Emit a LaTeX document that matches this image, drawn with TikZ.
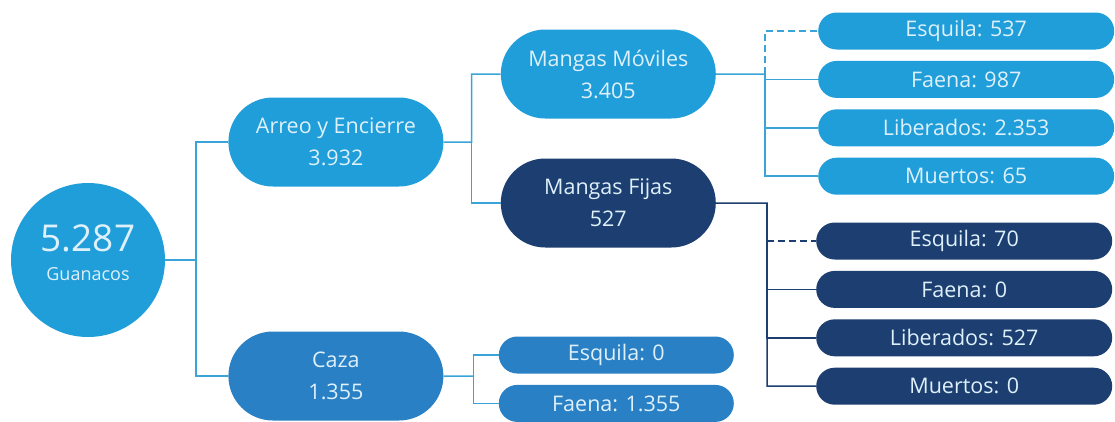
\documentclass[tikz,border=0pt]{standalone}
\usepackage{fontspec}
\setmainfont{Open Sans}
\usepackage{xcolor}
\usetikzlibrary{positioning,shapes.misc}

\definecolor{celeste}{RGB}{32,158,218}
\definecolor{azulmedio}{RGB}{42,128,196}
\definecolor{azuloscuro}{RGB}{28,62,112}
\definecolor{textoclaro}{RGB}{222,240,250}
\definecolor{lineaclara}{RGB}{58,163,216}

\begin{document}
\begin{tikzpicture}[x=1pt, y=-1pt, every node/.style={font=\fontsize{21.5}{32}\selectfont, text=textoclaro, align=center},
  grande/.style={rounded rectangle, minimum width=215pt, minimum height=89pt, inner sep=0pt},
  hoja/.style={rounded rectangle, minimum width=296pt, minimum height=37pt, inner sep=0pt},
  hojacaza/.style={rounded rectangle, minimum width=235pt, minimum height=37pt, inner sep=0pt},
  linea/.style={draw=lineaclara, line width=1.5pt},
  lineaosc/.style={draw=azuloscuro, line width=1.5pt},
  trazos/.style={dash pattern=on 7pt off 4pt}]
  \useasboundingbox (0,0) rectangle (1115,421);

  % Total
  \node[circle, fill=celeste, minimum size=154pt, inner sep=0pt, text depth=14pt] (raiz) at (88,260)
{{\fontsize{37}{40}\selectfont 5.287}\\[-3pt]{\fontsize{18}{20}\selectfont Guanacos}};

  % Metodos
  \node[grande, fill=celeste, right=63pt of raiz, yshift=118pt] (arreo) {Arreo y Encierre\\3.932};
  \node[grande, fill=azulmedio, right=63pt of raiz, yshift=-116pt] (caza) {Caza\\1.355};

  % Mangas
  \node[grande, fill=celeste, right=57pt of arreo, yshift=68pt] (mmovil) {Mangas Móviles\\3.405};
  \node[grande, fill=azuloscuro, right=57pt of arreo, yshift=-61pt] (mfija) {Mangas Fijas\\527};

  % Destino mangas moviles
  \node[hoja, fill=celeste, right=102pt of mmovil, yshift=43pt] (esq1) {Esquila: 537};
  \node[hoja, fill=celeste, below=11pt of esq1] (fae1) {Faena: 987};
  \node[hoja, fill=celeste, below=11pt of fae1] (lib1) {Liberados: 2.353};
  \node[hoja, fill=celeste, below=11pt of lib1] (mue1) {Muertos: 65};

  % Destino mangas fijas
  \node[hoja, fill=azuloscuro, right=100pt of mfija, yshift=-38pt] (esq2) {Esquila: 70};
  \node[hoja, fill=azuloscuro, below=11pt of esq2] (fae2) {Faena: 0};
  \node[hoja, fill=azuloscuro, below=11pt of fae2] (lib2) {Liberados: 527};
  \node[hoja, fill=azuloscuro, below=11pt of lib2] (mue2) {Muertos: 0};

  % Destino caza
  \node[hojacaza, fill=azulmedio, right=55pt of caza, yshift=21pt] (esq3) {Esquila: 0};
  \node[hojacaza, fill=azulmedio, below=11pt of esq3] (fae3) {Faena: 1.355};

  % Uniones
  \coordinate[right=31pt of raiz] (j0);
  \coordinate[right=28pt of arreo] (j1);
  \coordinate[right=49pt of mmovil] (j2);
  \coordinate[right=51pt of mfija] (j3);
  \coordinate[right=30pt of caza] (j4);

  % Lineas
\draw[linea] (raiz) -- (j0) |- (arreo);
\draw[linea] (j0) |- (caza);
\draw[linea] (arreo) -- (j1) |- (mmovil);
\draw[linea] (j1) |- (mfija);
\draw[linea] (mmovil) -- (j2);
\draw[linea, trazos] (j2) |- (esq1);
\foreach \i in {fae1,lib1,mue1}
\draw[linea] (j2) |- (\i);
\draw[lineaosc] (mfija) -- (j3) |- (mue2);
\draw[lineaosc, trazos] (j3|-esq2) -- (esq2);
\foreach \i in {fae2,lib2}
\draw[lineaosc] (j3) |- (\i);
\draw[linea] (caza) -- (j4);
\foreach \i in {esq3,fae3}
\draw[linea] (j4) |- (\i);

\end{tikzpicture}
\end{document}
